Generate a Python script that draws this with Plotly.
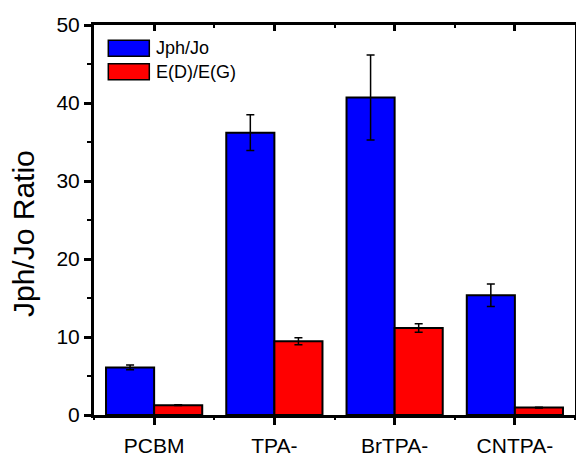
import plotly.graph_objects as go

categories = ["PCBM", "TPA-", "BrTPA-", "CNTPA-"]
jph_jo = [6.1, 36.2, 40.7, 15.35]
jph_jo_err = [0.3, 2.3, 5.45, 1.43]
ed_eg = [1.26, 9.45, 11.15, 0.95]
ed_eg_err = [0.05, 0.45, 0.55, 0.05]
series_names = ["Jph/Jo", "E(D)/E(G)"]
y_title = "Jph/Jo Ratio"

FONT = "Liberation Sans, Arial, sans-serif"
BLUE = "#0000FF"
RED = "#FF0000"

fig = go.Figure()
fig.add_trace(go.Bar(
    x=categories, y=jph_jo, name=series_names[0],
    marker=dict(color=BLUE, line=dict(color="black", width=2)),
    error_y=dict(type="data", array=jph_jo_err, color="black", thickness=1.5, width=4),
    showlegend=False,
))
fig.add_trace(go.Bar(
    x=categories, y=ed_eg, name=series_names[1],
    marker=dict(color=RED, line=dict(color="black", width=2)),
    error_y=dict(type="data", array=ed_eg_err, color="black", thickness=1.5, width=4),
    showlegend=False,
))
# invisible helper traces so the overlay tick axes (bottom minor / top inward ticks) get drawn
idx = list(range(len(categories)))
for ax in ("x2", "x3"):
    fig.add_trace(go.Scatter(x=idx, y=jph_jo, xaxis=ax, yaxis="y", mode="markers",
                             marker=dict(opacity=0), hoverinfo="skip", showlegend=False))

L, R, T, B = 94, 1, 25, 42
W, H = 576, 457
pw, ph = W - L - R, H - T - B

def px_x(p):
    return (p - L) / pw

def px_y(p):
    return (H - B - p) / ph

fig.update_layout(
    width=W, height=H,
    margin=dict(l=L, r=R, t=T, b=B, autoexpand=False),
    paper_bgcolor="white", plot_bgcolor="white",
    barmode="group", bargap=0.2, bargroupgap=0,
    font=dict(family=FONT, color="black"),
    hovermode=False,
    xaxis=dict(
        type="category", categoryorder="array", categoryarray=categories,
        range=[-0.5, 3.5], automargin=False,
        showline=True, linewidth=3, linecolor="black", mirror=False,
        ticks="outside", ticklen=7, tickwidth=2.5, tickcolor="black",
        tickfont=dict(size=21, family=FONT), showgrid=False, zeroline=False,
        ticklabelstandoff=3,
    ),
    xaxis2=dict(
        overlaying="x", anchor="y", side="bottom", type="linear",
        range=[-0.5, 3.5], tickmode="linear", tick0=0.5, dtick=1, automargin=False,
        ticks="outside", ticklen=4, tickwidth=2, tickcolor="black",
        showticklabels=False, showline=False, showgrid=False, zeroline=False,
    ),
    xaxis3=dict(
        overlaying="x", anchor="y", side="top", type="linear",
        range=[-0.5, 3.5], tickmode="linear", tick0=0, dtick=1, automargin=False,
        ticks="inside", ticklen=6, tickwidth=2.5, tickcolor="black",
        minor=dict(ticks="inside", ticklen=3, tickwidth=2, tickcolor="black", dtick=0.5, tick0=0),
        showticklabels=False, showline=True, linewidth=3, linecolor="black",
        showgrid=False, zeroline=False,
    ),
    yaxis=dict(
        range=[0, 50], tickmode="linear", tick0=0, dtick=10, automargin=False,
        showline=True, linewidth=3, linecolor="black", mirror=True,
        ticks="outside", ticklen=7, tickwidth=2.5, tickcolor="black",
        minor=dict(ticks="outside", ticklen=4, tickwidth=2, tickcolor="black", dtick=5, tick0=0),
        tickfont=dict(size=21, family=FONT), showgrid=False, zeroline=False,
    ),
)

# Legend drawn as swatches + text
sw_x0, sw_x1 = px_x(108.3), px_x(149.3)
rows = [(40.3, 56.3, BLUE, series_names[0]), (63.7, 79.7, RED, series_names[1])]
for y0, y1, col, name in rows:
    fig.add_shape(type="rect", xref="paper", yref="paper",
                  x0=sw_x0, x1=sw_x1, y0=px_y(y1), y1=px_y(y0),
                  fillcolor=col, line=dict(color="black", width=1.5))
    fig.add_annotation(xref="paper", yref="paper", x=px_x(154), y=px_y((y0 + y1) / 2),
                       text=name, showarrow=False, xanchor="left", yanchor="middle",
                       font=dict(size=18, family=FONT, color="black"))

fig.add_annotation(xref="paper", yref="paper", x=px_x(23), y=px_y(234),
                   text=y_title, textangle=-90, showarrow=False,
                   xanchor="center", yanchor="middle",
                   font=dict(size=30, family=FONT, color="black"))

fig.write_html("out.html")
